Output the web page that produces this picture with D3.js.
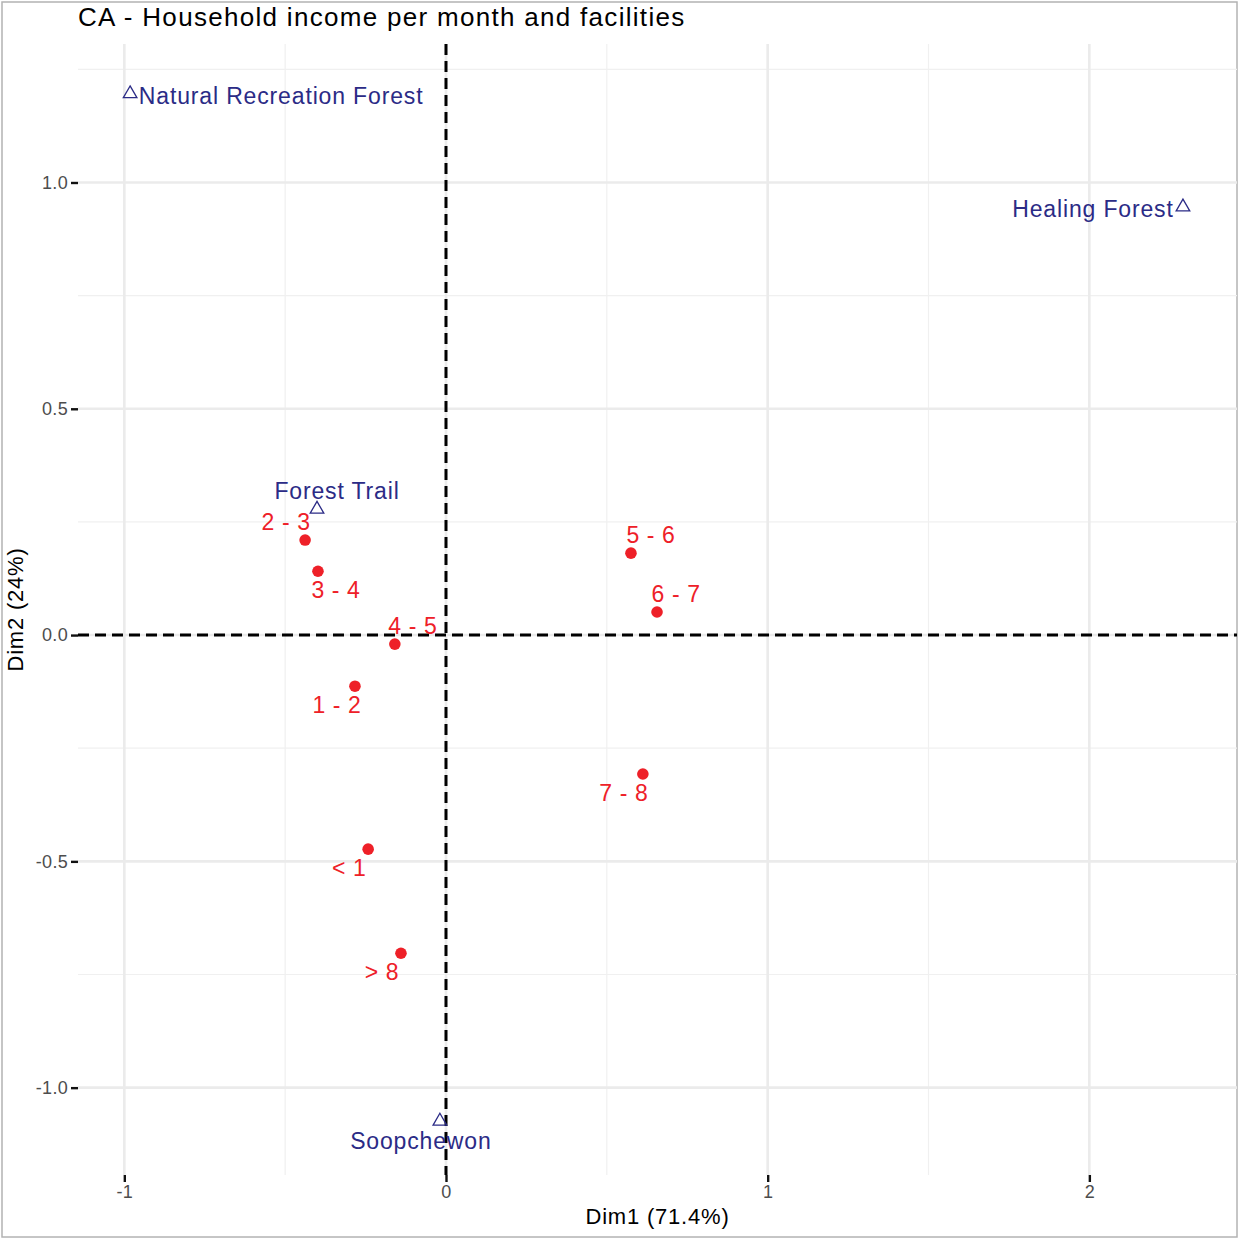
<!DOCTYPE html>
<html>
<head>
<meta charset="utf-8">
<script src="https://cdn.jsdelivr.net/npm/d3@7"></script>
<style>
  body { margin: 0; background: #fff; }
  svg { font-family: "Liberation Sans", Arial, sans-serif; }
</style>
</head>
<body>
<svg id="chart"></svg>
<script>
// row categories (household income) and their coordinates
const rowLabels = ["< 1", "1 - 2", "2 - 3", "3 - 4", "4 - 5", "5 - 6", "6 - 7", "7 - 8", "> 8"];
const rowDim1 = [-0.242, -0.283, -0.438, -0.398, -0.159, 0.575, 0.656, 0.612, -0.140];
const rowDim2 = [-0.473, -0.113, 0.210, 0.141, -0.020, 0.181, 0.051, -0.307, -0.703];

// column categories (facilities)
const colLabels = ["Natural Recreation Forest", "Healing Forest", "Forest Trail", "Soopchewon"];
const colDim1 = [-0.982, 2.291, -0.401, -0.019];
const colDim2 = [1.196, 0.946, 0.278, -1.074];

const xTicks = [-1, 0, 1, 2];
const yTicks = [-1.0, -0.5, 0.0, 0.5, 1.0];

// label offsets (px), mimicking ggrepel placement
const rowOffset = [[-19, 19], [-18, 19], [-19, -18], [18, 19], [18, -18], [20, -18], [19, -18], [-19, 19], [-19, 19]];
const colOffset = [[151, 2], [-90, 2], [20, -18], [-19, 20]];

const width = 1239, height = 1239;
const margin = { top: 44, right: 2, bottom: 64, left: 78 };

const svg = d3.select("#chart").attr("width", width).attr("height", height);

svg.append("rect")
  .attr("x", 2).attr("y", 2)
  .attr("width", width - 4).attr("height", height - 4)
  .attr("fill", "#fff").attr("stroke", "#b3b3b3").attr("stroke-width", 1.5);

const x = d3.scaleLinear().domain([-1.144, 2.459]).range([margin.left, width - margin.right]);
const y = d3.scaleLinear().domain([-1.193, 1.306]).range([height - margin.bottom, margin.top]);

const g = svg.append("g");

// minor grid
const minorX = [-0.5, 0.5, 1.5];
const minorY = [-0.75, -0.25, 0.25, 0.75, 1.25];
g.selectAll(".minx").data(minorX).enter().append("line")
  .attr("x1", d => x(d)).attr("x2", d => x(d))
  .attr("y1", y.range()[1]).attr("y2", y.range()[0])
  .attr("stroke", "#f0f0f0").attr("stroke-width", 1.2);
g.selectAll(".miny").data(minorY).enter().append("line")
  .attr("y1", d => y(d)).attr("y2", d => y(d))
  .attr("x1", x.range()[0]).attr("x2", x.range()[1])
  .attr("stroke", "#f0f0f0").attr("stroke-width", 1.2);

// major grid
g.selectAll(".majx").data(xTicks).enter().append("line")
  .attr("x1", d => x(d)).attr("x2", d => x(d))
  .attr("y1", y.range()[1]).attr("y2", y.range()[0])
  .attr("stroke", "#ebebeb").attr("stroke-width", 2.6);
g.selectAll(".majy").data(yTicks).enter().append("line")
  .attr("y1", d => y(d)).attr("y2", d => y(d))
  .attr("x1", x.range()[0]).attr("x2", x.range()[1])
  .attr("stroke", "#ebebeb").attr("stroke-width", 2.6);

// zero lines
g.append("line")
  .attr("x1", x(0)).attr("x2", x(0))
  .attr("y1", y.range()[1]).attr("y2", y.range()[0])
  .attr("stroke", "#000").attr("stroke-width", 3).attr("stroke-dasharray", "11,6");
g.append("line")
  .attr("y1", y(0)).attr("y2", y(0))
  .attr("x1", x.range()[0]).attr("x2", x.range()[1])
  .attr("stroke", "#000").attr("stroke-width", 3).attr("stroke-dasharray", "11,6");

// axes (plain hyphen for negatives, like R)
const fmtX = d => d3.format("d")(d).replace("\u2212", "-");
const fmtY = d => d3.format(".1f")(d).replace("\u2212", "-");
const xAxis = svg.append("g")
  .attr("transform", `translate(0, ${height - margin.bottom})`)
  .call(d3.axisBottom(x).tickValues(xTicks).tickSize(7).tickPadding(3).tickFormat(fmtX));
const yAxis = svg.append("g")
  .attr("transform", `translate(${margin.left}, 0)`)
  .call(d3.axisLeft(y).tickValues(yTicks).tickSize(7).tickPadding(3).tickFormat(fmtY));
[xAxis, yAxis].forEach(a => {
  a.select(".domain").remove();
  a.selectAll("line").attr("stroke", "#111").attr("stroke-width", 2.4);
  a.selectAll("text").attr("fill", "#4d4d4d").attr("font-size", 18)
    .attr("letter-spacing", 0.3)
    .attr("font-family", "Liberation Sans, Arial, sans-serif");
});

// row points
const red = "#ee2028";
g.selectAll(".rowpt").data(rowLabels).enter().append("circle")
  .attr("cx", (d, i) => x(rowDim1[i])).attr("cy", (d, i) => y(rowDim2[i]))
  .attr("r", 5.8).attr("fill", red);
g.selectAll(".rowlab").data(rowLabels).enter().append("text")
  .attr("x", (d, i) => x(rowDim1[i]) + rowOffset[i][0])
  .attr("y", (d, i) => y(rowDim2[i]) + rowOffset[i][1])
  .attr("dy", "0.35em").attr("text-anchor", "middle")
  .attr("font-size", 23).attr("letter-spacing", 0.6)
  .attr("fill", red).text(d => d);

// column points (open triangles)
const blue = "#2b2b86";
const tri = d3.symbol().type(d3.symbolTriangle).size(80);
g.selectAll(".colpt").data(colLabels).enter().append("path")
  .attr("d", tri)
  .attr("transform", (d, i) => `translate(${x(colDim1[i])},${y(colDim2[i])})`)
  .attr("fill", "none").attr("stroke", blue).attr("stroke-width", 1.3);
g.selectAll(".collab").data(colLabels).enter().append("text")
  .attr("x", (d, i) => x(colDim1[i]) + colOffset[i][0])
  .attr("y", (d, i) => y(colDim2[i]) + colOffset[i][1])
  .attr("dy", "0.35em").attr("text-anchor", "middle")
  .attr("font-size", 23).attr("letter-spacing", 0.85)
  .attr("fill", blue).text(d => d);

// titles
svg.append("text").attr("x", 78).attr("y", 26)
  .attr("font-size", 26).attr("letter-spacing", 1.3).attr("fill", "#000")
  .text("CA - Household income per month and facilities");
svg.append("text")
  .attr("x", (x.range()[0] + x.range()[1]) / 2).attr("y", 1224)
  .attr("text-anchor", "middle").attr("font-size", 22).attr("letter-spacing", 0.8)
  .attr("fill", "#000")
  .text("Dim1 (71.4%)");
svg.append("text")
  .attr("transform", `translate(23, ${(y.range()[0] + y.range()[1]) / 2}) rotate(-90)`)
  .attr("text-anchor", "middle").attr("font-size", 22).attr("letter-spacing", 0.8)
  .attr("fill", "#000")
  .text("Dim2 (24%)");
</script>
</body>
</html>
